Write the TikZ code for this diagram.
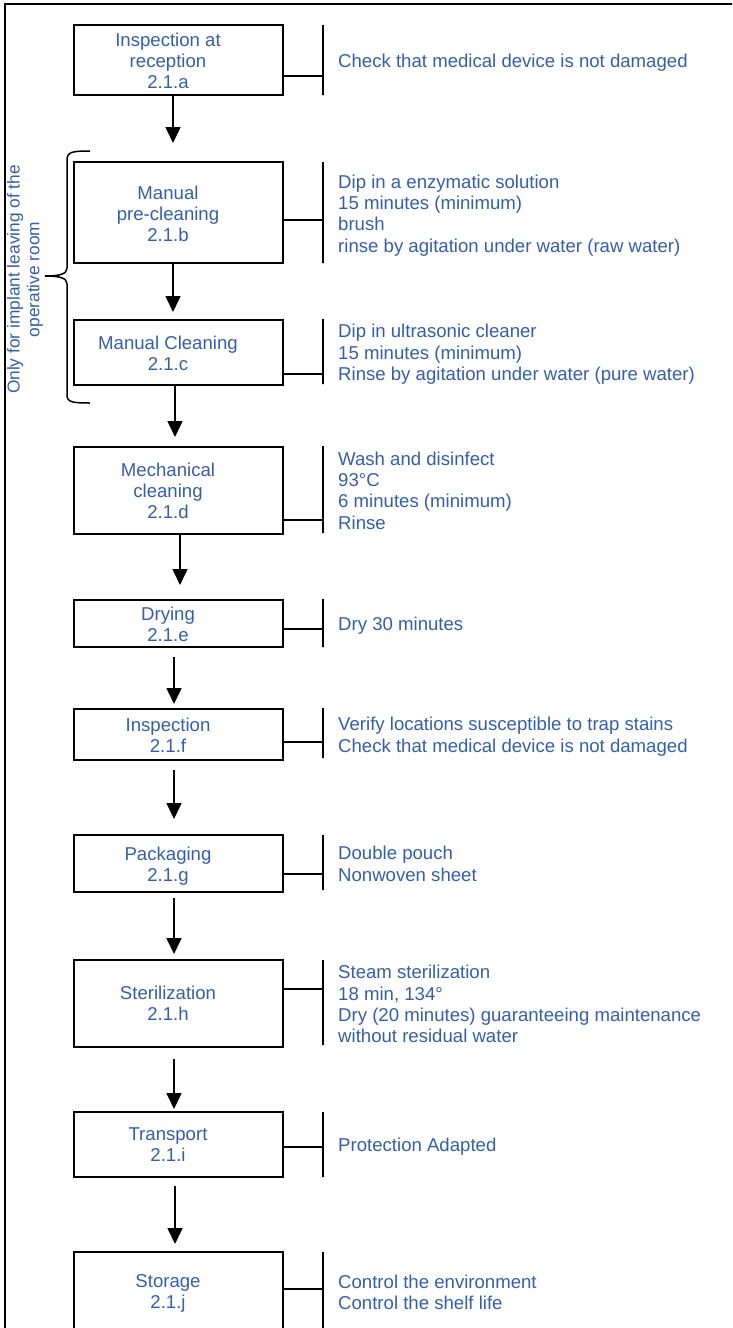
\documentclass[tikz,border=0pt]{standalone}
\usepackage{fontspec}
\setmainfont{Liberation Sans}
\usetikzlibrary{arrows.meta}
\definecolor{txtblue}{RGB}{52,95,168}
\newcommand\fmain{\fontsize{18.6pt}{21.4pt}\selectfont}
\newcommand\fsmall{\fontsize{17.3pt}{19.9pt}\selectfont}
\begin{document}
\begin{tikzpicture}[x=1pt,y=-1pt,
  box/.style={draw, rectangle, line width=2pt, minimum width=209pt, inner sep=0pt},
  barnode/.style={draw, rectangle, line width=2pt, minimum width=0pt, inner sep=0pt},
  conn/.style={line width=1.5pt},
  arr/.style={line width=1.6pt, -{Triangle[length=16pt,width=15pt]}},
  frameline/.style={line width=2.2pt},
  bracestyle/.style={line width=1.5pt},
  btxt/.style={anchor=north, align=center, inner sep=0pt, font=\fmain, text=txtblue},
  rtxt/.style={anchor=north west, align=left, inner sep=0pt, font=\fmain, text=txtblue},
  stxt/.style={rotate=90, align=center, inner sep=0pt, font=\fsmall, text=txtblue}]
\useasboundingbox (0,0) rectangle (732,1328);
\clip (0,0) rectangle (732,1328);
% frame
\draw[frameline] (5,1335) -- (5,3.7) -- (740,3.7);
% boxes
\node[box, minimum height=70pt]  (a) at (178.5,60) {};
\node[box, minimum height=101pt] (b) at (178.5,212.5) {};
\node[box, minimum height=65pt]  (c) at (178.5,352.5) {};
\node[box, minimum height=87pt]  (d) at (178,490.5) {};
\node[box, minimum height=47pt]  (e) at (178,623.5) {};
\node[box, minimum height=51pt]  (f) at (178,734.5) {};
\node[box, minimum height=57pt]  (g) at (178,863.5) {};
\node[box, minimum height=87pt]  (h) at (178,1003.5) {};
\node[box, minimum height=65pt]  (i) at (178,1144.5) {};
\node[box, minimum height=96pt]  (j) at (178.5,1300) {};
% box texts
\node[btxt] (ta) at (168,31) {\strut Inspection at\\\strut reception\\\strut 2.1.a};
\node[btxt] (tb) at (168,184) {\strut Manual\\\strut pre-cleaning\\\strut 2.1.b};
\node[btxt] (tc) at (168,334) {\strut Manual Cleaning\\\strut 2.1.c};
\node[btxt] (td) at (168,461) {\strut Mechanical\\\strut cleaning\\\strut 2.1.d};
\node[btxt] (te) at (168,605) {\strut Drying\\\strut 2.1.e};
\node[btxt] (tf) at (168,716) {\strut Inspection\\\strut 2.1.f};
\node[btxt] (tg) at (168,845) {\strut Packaging\\\strut 2.1.g};
\node[btxt] (th) at (168,984) {\strut Sterilization\\\strut 2.1.h};
\node[btxt] (ti) at (168,1125) {\strut Transport\\\strut 2.1.i};
\node[btxt] (tj) at (168,1272) {\strut Storage\\\strut 2.1.j};
% bars
\node[barnode, minimum height=70pt]  (ba) at (323,60) {};
\node[barnode, minimum height=101pt] (bb) at (323,212.5) {};
\node[barnode, minimum height=65pt]  (bc) at (323,351.5) {};
\node[barnode, minimum height=87pt]  (bd) at (323,489.5) {};
\node[barnode, minimum height=48pt]  (be) at (323,623) {};
\node[barnode, minimum height=50pt]  (bf) at (323,733) {};
\node[barnode, minimum height=55pt]  (bg) at (323,862.5) {};
\node[barnode, minimum height=85pt]  (bh) at (323,1002.5) {};
\node[barnode, minimum height=65pt]  (bi) at (323,1144.5) {};
\node[barnode, minimum height=96pt]  (bj) at (323,1300) {};
% connectors box -> bar
\draw[conn] (a.east |- 0,76) -- (ba.west |- 0,76);
\draw[conn] (b.east |- 0,220) -- (bb.west |- 0,220);
\draw[conn] (c.east |- 0,374) -- (bc.west |- 0,374);
\draw[conn] (d.east |- 0,520) -- (bd.west |- 0,520);
\draw[conn] (e.east |- 0,629) -- (be.west |- 0,629);
\draw[conn] (f.east |- 0,742) -- (bf.west |- 0,742);
\draw[conn] (g.east |- 0,874) -- (bg.west |- 0,874);
\draw[conn] (h.east |- 0,989) -- (bh.west |- 0,989);
\draw[conn] (i.east |- 0,1147) -- (bi.west |- 0,1147);
\draw[conn] (j.east |- 0,1289) -- (bj.west |- 0,1289);
% right texts
\node[rtxt] (ra) at (338,52.5) {\strut Check that medical device is not damaged};
\node[rtxt] (rb) at (338,173) {\strut Dip in a enzymatic solution\\\strut 15 minutes (minimum)\\\strut brush\\\strut rinse by agitation under water (raw water)};
\node[rtxt] (rc) at (338,322.5) {\strut Dip in ultrasonic cleaner\\\strut 15 minutes (minimum)\\\strut Rinse by agitation under water (pure water)};
\node[rtxt] (rd) at (338,450) {\strut Wash and disinfect\\\strut 93°C\\\strut 6 minutes (minimum)\\\strut Rinse};
\node[rtxt] (re) at (338,615) {\strut Dry 30 minutes};
\node[rtxt] (rf) at (338,715.5) {\strut Verify locations susceptible to trap stains\\\strut Check that medical device is not damaged};
\node[rtxt] (rg) at (338,844.5) {\strut Double pouch\\\strut Nonwoven sheet};
\node[rtxt] (rh) at (338,963.5) {\strut Steam sterilization\\\strut 18 min, 134°\\\strut Dry (20 minutes) guaranteeing maintenance\\\strut without residual water};
\node[rtxt] (ri) at (338,1136.5) {\strut Protection Adapted};
\node[rtxt] (rj) at (338,1273) {\strut Control the environment\\\strut Control the shelf life};
% arrows
\draw[arr] ([xshift=-5.5pt]a.south) -- ([xshift=-5.5pt,yshift=18pt]b.north);
\draw[arr] ([xshift=-5.5pt]b.south) -- ([xshift=-5.5pt,yshift=7pt]c.north);
\draw[arr] ([xshift=-3.5pt]c.south) -- ([xshift=-3pt,yshift=9pt]d.north);
\draw[arr] ([xshift=2pt]d.south) -- ([xshift=2pt,yshift=14pt]e.north);
\draw[arr] ([xshift=-4pt,yshift=-9pt]e.south) -- ([xshift=-4pt,yshift=4pt]f.north);
\draw[arr] ([xshift=-4pt,yshift=-9pt]f.south) -- ([xshift=-4pt,yshift=15pt]g.north);
\draw[arr] ([xshift=-4pt,yshift=-5pt]g.south) -- ([xshift=-4pt,yshift=5pt]h.north);
\draw[arr] ([xshift=-4pt,yshift=-11pt]h.south) -- ([xshift=-4pt,yshift=2pt]i.north);
\draw[arr] ([xshift=-3pt,yshift=-8pt]i.south) -- ([xshift=-3.5pt,yshift=7pt]j.north);
% brace
\draw[bracestyle] (90,151) .. controls (72,151) and (67,152) .. (67,160) -- (67,268)
  .. controls (67,274) and (60,276) .. (45,276)
  .. controls (60,276) and (67,278) .. (67,284) -- (67,395)
  .. controls (67,402) and (72,403) .. (90,403);
\node[stxt] (side) at (25.5,279.5) {\strut Only for implant leaving of the\\\strut operative room};
\end{tikzpicture}
\end{document}
